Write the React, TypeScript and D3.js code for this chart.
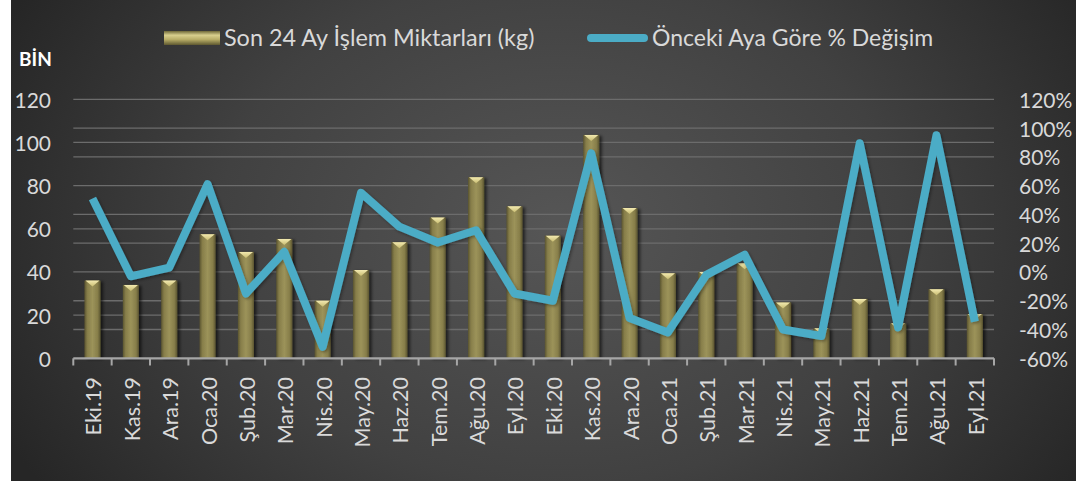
import React from "react";
import * as d3 from "d3";

const categories = ["Eki.19","Kas.19","Ara.19","Oca.20","Şub.20","Mar.20","Nis.20","May.20","Haz.20","Tem.20","Ağu.20","Eyl.20","Eki.20","Kas.20","Ara.20","Oca.21","Şub.21","Mar.21","Nis.21","May.21","Haz.21","Tem.21","Ağu.21","Eyl.21"];
const volumes = [36,34,36,57.5,49.3,55.3,26.7,40.9,53.8,65.2,83.9,70.4,56.8,103.5,69.6,39.4,40,44,25.9,13.9,27.5,16.2,32,20.5];
const changes = [51,-3,3,61,-15,14,-52,55,31.5,20.5,29,-15,-20,82.5,-32,-42,-2,12,-40,-44.5,89.5,-38.5,95,-34.5];
const leftTicks = [0,20,40,60,80,100,120];
const rightTicks = [-60,-40,-20,0,20,40,60,80,100,120];
const barLegend = "Son 24 Ay İşlem Miktarları (kg)";
const lineLegend = "Önceki Aya Göre % Değişim";
const unitLabel = "BİN";

const W = 1076, H = 481;
const FONT = "Lato, 'Open Sans', sans-serif";
const TXT = "#d9d9d9";

export default function App() {
  const x = d3.scaleBand<string>().domain(categories).range([73.3, 994]).padding(0);
  const yL = d3.scaleLinear().domain([0, 120]).range([358.3, 99.3]);
  const yR = d3.scaleLinear().domain([-60, 120]).range([358.3, 99.3]);
  const bw = x.bandwidth() * 0.42;
  const cx = (c: string) => (x(c) as number) + x.bandwidth() / 2;
  const line = d3.line<number>().x((_, i) => cx(categories[i])).y(d => yR(d));
  const gridVals = Array.from(new Set([...leftTicks.map(v => yL(v)), ...rightTicks.map(v => yR(v))])).filter(v => v < 357);
  const ticksX = d3.range(categories.length + 1).map(i => 73.3 + i * x.step());

  return (
    <svg width={W} height={H} style={{ position: "absolute", left: 0, top: 0, display: "block" }}>
      <defs>
        <radialGradient id="bg" gradientUnits="userSpaceOnUse" cx={560} cy={230} r={620} gradientTransform="translate(560 230) scale(1 0.75) translate(-560 -230)">
          <stop offset="0" stopColor="#565656" />
          <stop offset="0.55" stopColor="#414141" />
          <stop offset="1" stopColor="#262626" />
        </radialGradient>
        <linearGradient id="barG" x1="0" x2="1" y1="0" y2="0">
          <stop offset="0" stopColor="#5a5430" />
          <stop offset="0.18" stopColor="#877e4a" />
          <stop offset="0.5" stopColor="#9c935a" />
          <stop offset="0.82" stopColor="#877e4a" />
          <stop offset="1" stopColor="#5a5430" />
        </linearGradient>
        <linearGradient id="capG" x1="0" x2="0" y1="0" y2="1">
          <stop offset="0" stopColor="#f3eab0" />
          <stop offset="1" stopColor="#c9bd72" />
        </linearGradient>
        <linearGradient id="legBar" x1="0" x2="0" y1="0" y2="1">
          <stop offset="0" stopColor="#6e6838" />
          <stop offset="0.3" stopColor="#d8cf8e" />
          <stop offset="0.6" stopColor="#b9ae68" />
          <stop offset="1" stopColor="#5e5830" />
        </linearGradient>
        <filter id="sh" x="-50%" y="-10%" width="200%" height="120%">
          <feDropShadow dx="2.5" dy="1" stdDeviation="1.5" floodColor="#000" floodOpacity="0.6" />
        </filter>
        <filter id="lsh" x="-10%" y="-10%" width="120%" height="120%">
          <feDropShadow dx="1.5" dy="1.5" stdDeviation="1.5" floodColor="#000" floodOpacity="0.35" />
        </filter>
      </defs>
      <rect x={0} y={0} width={W} height={H} fill="#ffffff" />
      <rect x={11} y={0} width={W - 11} height={H} fill="url(#bg)" />

      {gridVals.map((gy, i) => (
        <line key={i} x1={73.3} x2={994} y1={gy} y2={gy} stroke="#6c6c6c" strokeWidth={1.3} />
      ))}

      {categories.map((c, i) => {
        const x0 = cx(c) - bw / 2;
        const top = yL(volumes[i]);
        const h = yL(0) - top;
        return (
          <g key={c}>
            <rect x={x0} y={top} width={bw} height={h} fill="url(#barG)" filter="url(#sh)" />
            <polygon points={`${x0 + 1},${top} ${x0 + bw - 1},${top} ${x0 + bw / 2},${top + 6}`} fill="url(#capG)" />
          </g>
        );
      })}

      <line x1={73.3} x2={994} y1={358.3} y2={358.3} stroke="#a6a6a6" strokeWidth={2.2} />
      {ticksX.map((tx, i) => (
        <line key={i} x1={tx} x2={tx} y1={358.3} y2={365.5} stroke="#a6a6a6" strokeWidth={2} />
      ))}

      <path d={line(changes) || ""} fill="none" stroke="#4bacc6" strokeWidth={8} strokeLinejoin="round" strokeLinecap="butt" filter="url(#lsh)" />

      {leftTicks.map(v => (
        <text key={v} x={51} y={yL(v)} textAnchor="end" dominantBaseline="central" fill={TXT} fontFamily={FONT} fontSize={21}>{v}</text>
      ))}
      {rightTicks.map(v => (
        <text key={v} x={1019} y={yR(v)} textAnchor="start" dominantBaseline="central" fill={TXT} fontFamily={FONT} fontSize={21}>{v}%</text>
      ))}
      {categories.map(c => (
        <text key={c} transform={`translate(${cx(c) + 1},377) rotate(-90)`} textAnchor="end" dominantBaseline="central" fill={TXT} fontFamily={FONT} fontSize={21.5}>{c}</text>
      ))}

      <text x={19} y={66} fill="#ffffff" fontFamily={FONT} fontWeight="bold" fontSize={19}>{unitLabel}</text>

      <rect x={164} y={31} width={56} height={14} fill="url(#legBar)" />
      <text x={224} y={46} fill={TXT} fontFamily={FONT} fontSize={23.4}>{barLegend}</text>
      <line x1={591} x2={644} y1={38} y2={38} stroke="#4bacc6" strokeWidth={8} strokeLinecap="round" />
      <text x={652} y={46} fill={TXT} fontFamily={FONT} fontSize={23}>{lineLegend}</text>
    </svg>
  );
}
